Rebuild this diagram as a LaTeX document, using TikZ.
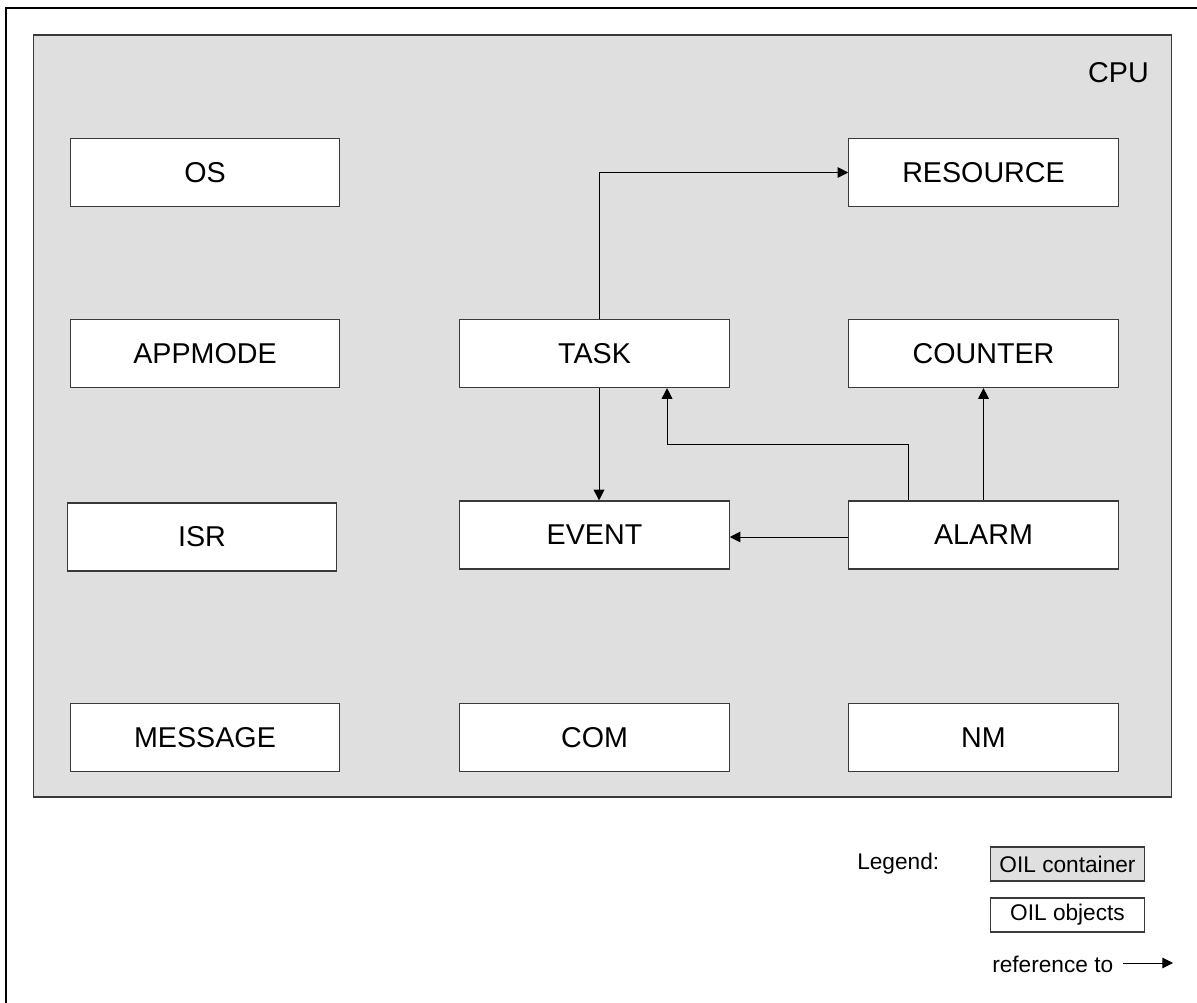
\documentclass[tikz,border=0pt]{standalone}
\usepackage{fontspec}
\setmainfont{Liberation Sans}
\usetikzlibrary{arrows.meta}
\definecolor{contfill}{HTML}{DFDFDF}
\definecolor{edge}{HTML}{3A3A3A}
\tikzset{
  obj/.style={draw=edge, fill=white, line width=0.9pt, minimum width=202pt, minimum height=51pt, inner sep=0pt,
    font=\fontsize{21.5}{26}\selectfont},
  legbox/.style={draw=edge, line width=0.8pt, minimum width=116pt, minimum height=25.5pt, inner sep=0pt,
    font=\fontsize{17}{20}\selectfont},
  ref/.style={-{Triangle[length=8pt,width=8pt]}, line width=0.75pt, draw=black},
  legtext/.style={inner sep=0pt, font=\fontsize{17}{20}\selectfont}
}
\begin{document}
\begin{tikzpicture}[x=0.75pt, y=-0.75pt]
\useasboundingbox (0,0) rectangle (1197,1003);
\fill[white] (0,0) rectangle (1197,1003);
% outer frame (right and bottom sides lie outside the view)
\draw[line width=1.9pt] (6,1003) -- (6,8) -- (1197,8);
% CPU container
\node[draw=edge, fill=contfill, line width=1.1pt, minimum width=853.5pt, minimum height=571.5pt, inner sep=0pt] (cpu) at (602.5,416) {};
\node[anchor=base east, inner sep=0pt, font=\fontsize{21.5}{26}\selectfont] (cpulabel) at (1149,82) {CPU};
% objects
\node[obj] (os) at (205,172.5) {OS};
\node[obj] (appmode) at (205,353.5) {APPMODE};
\node[obj] (isr) at (202,537) {ISR};
\node[obj] (message) at (205,737.5) {MESSAGE};
\node[obj] (task) at (594.5,353.5) {TASK};
\node[obj] (event) at (594.5,535) {EVENT};
\node[obj] (com) at (594.5,737.5) {COM};
\node[obj] (resource) at (983.5,172.5) {RESOURCE};
\node[obj] (counter) at (983.5,353.5) {COUNTER};
\node[obj] (alarm) at (983.5,535) {ALARM};
\node[obj] (nm) at (983.5,737.5) {NM};
% references
\draw[ref] ([xshift=3.4pt]task.north) |- (resource.west);
\draw[ref] ([xshift=3.4pt]task.south) -- ([xshift=3.4pt]event.north);
\draw[ref] ([xshift=-55.9pt]alarm.north) -- ++(0,42pt) -| ([xshift=54.4pt]task.south);
\draw[ref] (alarm.north) -- (counter.south);
\draw[ref] ([yshift=-1.5pt]alarm.west) -- ([yshift=-1.5pt]event.east);
% legend
\node[legtext, anchor=base west] (legend) at (857,869) {Legend:};
\node[legbox, fill=contfill] (legcont) at (1067.5,864) {OIL container};
\node[legbox, fill=white] (legobj) at (1067.5,915) {OIL objects};
\node[legtext, anchor=base west] (legref) at (992,972) {reference to};
\coordinate (legarrowend) at (1173,963);
\draw[ref] (legref.east |- legarrowend) ++(7pt,0) -- (legarrowend);
\end{tikzpicture}
\end{document}
